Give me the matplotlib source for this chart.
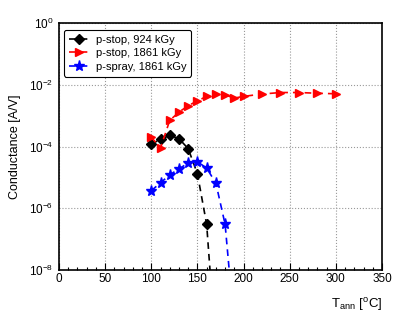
import numpy as np
import matplotlib
matplotlib.use("Agg")
import matplotlib.pyplot as plt
from matplotlib.ticker import MultipleLocator, FixedLocator, FuncFormatter

plt.rcParams['font.family'] = ['Liberation Sans', 'DejaVu Sans']
plt.rcParams['mathtext.fontset'] = 'custom'
plt.rcParams['mathtext.rm'] = 'Liberation Sans'
plt.rcParams['mathtext.it'] = 'Liberation Sans:italic'
plt.rcParams['mathtext.bf'] = 'Liberation Sans:bold'

# Data
x_black = [100, 110, 120, 130, 140, 150, 160, 170]
y_black = [1.2e-4, 1.7e-4, 2.3e-4, 1.8e-4, 8.5e-5, 1.3e-5, 3.0e-7, 2.5e-11]

x_red = [100, 110, 120, 130, 140, 150, 160, 170, 180, 190, 200, 220, 240, 260, 280, 300]
y_red = [2.0e-4, 9.0e-5, 7.0e-4, 1.3e-3, 2.1e-3, 3.0e-3, 4.2e-3, 5.0e-3, 4.7e-3,
         3.7e-3, 4.2e-3, 5.0e-3, 5.6e-3, 5.6e-3, 5.3e-3, 5.1e-3]

x_blue = [100, 110, 120, 130, 140, 150, 160, 170, 180, 190]
y_blue = [3.7e-6, 6.7e-6, 1.2e-5, 1.9e-5, 2.9e-5, 3.2e-5, 2.0e-5, 6.5e-6, 3.0e-7, 1.4e-10]

labels = ["p-stop, 924 kGy", "p-stop, 1861 kGy", "p-spray, 1861 kGy"]

fig = plt.figure(figsize=(4.07, 3.26), dpi=100)
ax = fig.add_axes([59/407, 56/326, 323/407, 247/326])

ax.plot(x_black, y_black, color='black', linestyle='--', dashes=(4, 3), lw=1.2,
        marker='D', markersize=5.5, label=labels[0])
ax.plot(x_red, y_red, color='red', linestyle='--', dashes=(4, 3), lw=1.2,
        marker='>', markersize=6, label=labels[1])
ax.plot(x_blue, y_blue, color='blue', linestyle='--', dashes=(4, 3), lw=1.2,
        marker='*', markersize=8, label=labels[2])

ax.set_yscale('log')
ax.set_xlim(0, 350)
ax.set_ylim(1e-8, 1)
ax.xaxis.set_major_locator(MultipleLocator(50))
ax.xaxis.set_minor_locator(MultipleLocator(10))
ax.yaxis.set_major_locator(FixedLocator([1e-8, 1e-6, 1e-4, 1e-2, 1]))
ax.yaxis.set_minor_locator(FixedLocator([]))

def yfmt(v, pos):
    e = int(round(np.log10(v)))
    return r'$\mathregular{10^{%d}}$' % e
ax.yaxis.set_major_formatter(FuncFormatter(yfmt))

ax.tick_params(axis='both', which='both', direction='in', labelsize=8.5,
               top=False, right=False)
ax.tick_params(axis='x', which='major', length=5, width=0.8, pad=2)
ax.tick_params(axis='x', which='minor', length=2.5, width=0.8)
ax.tick_params(axis='y', which='major', length=0, pad=4)

ax.grid(True, which='major', linestyle=':', color='#999999', lw=0.8)

for s in ax.spines.values():
    s.set_linewidth(1.2)

ax.set_ylabel('Conductance [A/V]', fontsize=9, labelpad=6)
ax.set_xlabel(r'T$_{\mathregular{ann}}$ [$^{\mathregular{o}}$C]', fontsize=9.5,
              loc='right', labelpad=8)

leg = ax.legend(loc='upper left', fontsize=8, frameon=True, fancybox=True,
                edgecolor='black', handlelength=1.8, handletextpad=0.6,
                borderpad=0.45, labelspacing=0.3, bbox_to_anchor=(0.005, 0.985),
                borderaxespad=0.3)
leg.get_frame().set_linewidth(0.8)
leg.get_frame().set_alpha(1)

fig.savefig('out.png', dpi=100)
